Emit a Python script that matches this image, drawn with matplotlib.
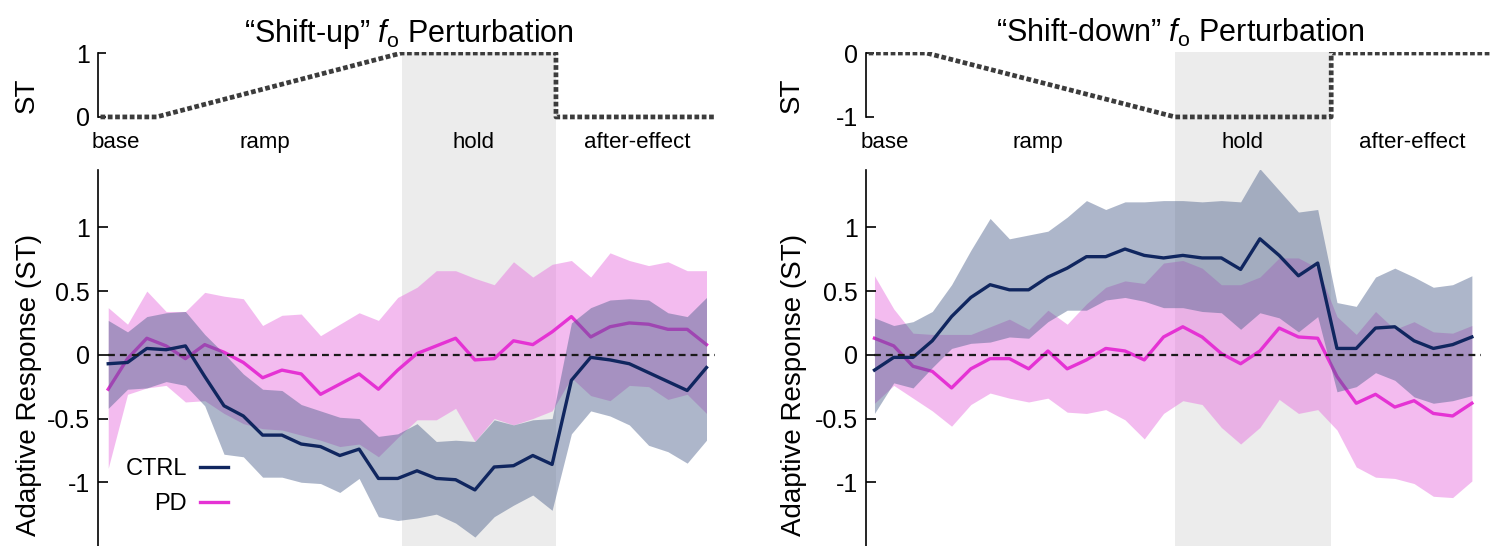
import numpy as np
import matplotlib
matplotlib.use('Agg')
import matplotlib.pyplot as plt
from matplotlib.transforms import blended_transform_factory

plt.rcParams['font.family'] = ['Liberation Sans', 'DejaVu Sans']
plt.rcParams['axes.unicode_minus'] = False
plt.rcParams['mathtext.fontset'] = 'custom'
plt.rcParams['mathtext.rm'] = 'Liberation Sans'
plt.rcParams['mathtext.it'] = 'Liberation Sans:italic'

# trial bins
bins = np.arange(1, 33)
phases = ['base', 'ramp', 'hold', 'after-effect']

# perturbation schedule in bin units: start, ramp start, hold start, hold end, end
up_edges = [0.6, 3.5, 16.2, 24.2, 32.4]
down_edges = [0.7, 3.7, 16.6, 24.7, 33.0]
up_shift = 1
down_shift = -1

# "Shift-up" adaptive responses (ST)
up_ctrl = [-0.07, -0.06, 0.05, 0.04, 0.07, -0.17, -0.40, -0.48, -0.63, -0.63, -0.70, -0.72,
           -0.79, -0.74, -0.97, -0.97, -0.91, -0.97, -0.98, -1.06, -0.88, -0.87, -0.79, -0.86,
           -0.20, -0.02, -0.04, -0.07, -0.14, -0.21, -0.28, -0.10]
up_ctrl_hi = [0.27, 0.18, 0.30, 0.33, 0.34, 0.16, 0.01, -0.15, -0.27, -0.28, -0.39, -0.44,
              -0.49, -0.50, -0.64, -0.62, -0.54, -0.68, -0.67, -0.68, -0.51, -0.55, -0.51, -0.50,
              0.25, 0.37, 0.43, 0.44, 0.43, 0.33, 0.30, 0.45]
up_ctrl_lo = [-0.42, -0.27, -0.26, -0.21, -0.24, -0.40, -0.78, -0.80, -0.96, -0.96, -1.00, -1.01,
              -1.08, -0.97, -1.27, -1.30, -1.28, -1.25, -1.32, -1.43, -1.27, -1.18, -1.10, -1.22,
              -0.62, -0.44, -0.48, -0.55, -0.71, -0.76, -0.85, -0.67]
up_pd = [-0.27, -0.03, 0.13, 0.07, -0.03, 0.08, 0.02, -0.06, -0.18, -0.12, -0.15, -0.31,
         -0.23, -0.15, -0.27, -0.12, 0.01, 0.07, 0.13, -0.04, -0.03, 0.11, 0.08, 0.18,
         0.30, 0.14, 0.22, 0.25, 0.24, 0.20, 0.20, 0.08]
up_pd_hi = [0.37, 0.24, 0.50, 0.34, 0.34, 0.49, 0.46, 0.44, 0.23, 0.31, 0.32, 0.15,
            0.24, 0.33, 0.27, 0.45, 0.53, 0.66, 0.66, 0.60, 0.55, 0.73, 0.61, 0.71,
            0.74, 0.61, 0.80, 0.74, 0.70, 0.73, 0.66, 0.66]
up_pd_lo = [-0.89, -0.31, -0.26, -0.24, -0.37, -0.36, -0.46, -0.54, -0.58, -0.59, -0.63, -0.67,
            -0.72, -0.70, -0.80, -0.65, -0.51, -0.51, -0.42, -0.68, -0.50, -0.55, -0.50, -0.44,
            -0.18, -0.32, -0.36, -0.24, -0.25, -0.35, -0.31, -0.46]

# "Shift-down" adaptive responses (ST)
down_ctrl = [-0.12, -0.02, -0.02, 0.11, 0.30, 0.45, 0.55, 0.51, 0.51, 0.61, 0.68, 0.77,
             0.77, 0.83, 0.78, 0.76, 0.78, 0.76, 0.76, 0.67, 0.91, 0.78, 0.62, 0.72,
             0.05, 0.05, 0.21, 0.22, 0.11, 0.05, 0.08, 0.14]
down_ctrl_hi = [0.29, 0.23, 0.26, 0.34, 0.55, 0.82, 1.07, 0.91, 0.94, 0.97, 1.08, 1.21,
                1.14, 1.20, 1.20, 1.21, 1.21, 1.20, 1.21, 1.20, 1.46, 1.29, 1.12, 1.14,
                0.41, 0.38, 0.61, 0.68, 0.61, 0.53, 0.55, 0.62]
down_ctrl_lo = [-0.46, -0.22, -0.26, -0.10, 0.05, 0.09, 0.10, 0.14, 0.13, 0.26, 0.35, 0.35,
                0.43, 0.45, 0.42, 0.37, 0.37, 0.34, 0.33, 0.20, 0.33, 0.29, 0.18, 0.30,
                -0.29, -0.25, -0.14, -0.20, -0.33, -0.38, -0.36, -0.32]
down_pd = [0.13, 0.07, -0.09, -0.13, -0.26, -0.11, -0.03, -0.03, -0.11, 0.03, -0.11, -0.04,
           0.05, 0.03, -0.04, 0.14, 0.22, 0.14, 0.01, -0.07, 0.03, 0.21, 0.14, 0.13,
           -0.17, -0.38, -0.31, -0.41, -0.36, -0.46, -0.48, -0.38]
down_pd_hi = [0.62, 0.36, 0.17, 0.16, 0.16, 0.16, 0.22, 0.28, 0.20, 0.35, 0.24, 0.40,
              0.53, 0.58, 0.56, 0.72, 0.74, 0.68, 0.55, 0.55, 0.61, 0.76, 0.76, 0.68,
              0.30, 0.16, 0.34, 0.20, 0.26, 0.18, 0.17, 0.23]
down_pd_lo = [-0.38, -0.24, -0.34, -0.44, -0.56, -0.39, -0.30, -0.34, -0.37, -0.34, -0.45, -0.46,
              -0.43, -0.51, -0.66, -0.46, -0.36, -0.39, -0.57, -0.70, -0.57, -0.35, -0.46, -0.43,
              -0.59, -0.88, -0.96, -0.97, -1.01, -1.11, -1.12, -0.99]

W, H = 1501, 546
CTRL_LINE = '#10265f'
CTRL_FILL = '#4a5f8a'
PD_LINE = '#e532d4'
PD_FILL = '#e878e0'
HOLD = '#ececec'


def px(x0, y0, x1, y1):
    # pixel box -> figure rect
    return [x0 / W, 1 - y1 / H, (x1 - x0) / W, (y1 - y0) / H]


def draw_panel(fig, x0, x1, xlim, edges, shift, ctrl, ctrl_lo, ctrl_hi, pd_, pd_lo, pd_hi,
               title, label_x):
    ax_top = fig.add_axes(px(x0, 52, x1, 170))
    ax = fig.add_axes(px(x0, 170, x1, 546))

    # perturbation profile
    lo, hi = min(0, shift), max(0, shift)
    ax_top.axvspan(edges[2], edges[3], color=HOLD, lw=0, zorder=0)
    path_x = [edges[0], edges[1], edges[2], edges[3], edges[3], edges[4]]
    path_y = [0, 0, shift, shift, 0, 0]
    ax_top.plot(path_x, path_y, color='#3c3c3c', lw=3.4, ls=(0, (1, 0.55)),
                dash_capstyle='butt', zorder=2)
    ax_top.set_xlim(xlim)
    ax_top.set_ylim(lo - 0.83, hi + 0.016)
    for s in ['top', 'right', 'bottom']:
        ax_top.spines[s].set_visible(False)
    ax_top.spines['left'].set_bounds(lo, hi)
    ax_top.spines['left'].set_linewidth(1.2)
    ax_top.set_xticks([])
    ax_top.set_yticks([lo, hi])
    ax_top.set_yticklabels([f'{lo:g}', f'{hi:g}'])
    ax_top.tick_params(axis='y', direction='in', length=6, width=1.2, labelsize=18, pad=6)
    ax_top.patch.set_visible(False)
    tr = blended_transform_factory(ax_top.transData, ax_top.transAxes)
    for name, lx in zip(phases, label_x):
        ax_top.text(lx, 0.237, name, transform=tr, ha='center', va='center', fontsize=16)
    ax_top.set_title(title, fontsize=22, pad=7)

    # adaptive responses
    ax.axvspan(edges[2], edges[3], color=HOLD, lw=0, zorder=0)
    ax.fill_between(bins, pd_lo, pd_hi, color=PD_FILL, alpha=0.5, lw=0, zorder=1)
    l_pd, = ax.plot(bins, pd_, color=PD_LINE, lw=2.4, zorder=2, label='PD')
    ax.fill_between(bins, ctrl_lo, ctrl_hi, color=CTRL_FILL, alpha=0.45, lw=0, zorder=3)
    l_ctrl, = ax.plot(bins, ctrl, color=CTRL_LINE, lw=2.4, zorder=4, label='CTRL')
    ax.hlines(0, bins[0], bins[-1] + 0.45, colors='#1a1a1a', lw=1.6,
              linestyles=(0, (3.1, 2.25)), zorder=5)
    ax.set_xlim(xlim)
    ax.set_ylim(-1.5, 1.45)
    for s in ['top', 'right', 'bottom']:
        ax.spines[s].set_visible(False)
    ax.spines['left'].set_linewidth(1.2)
    ax.set_xticks([])
    ax.set_yticks([1, 0.5, 0, -0.5, -1])
    ax.set_yticklabels(['1', '0.5', '0', '-0.5', '-1'])
    ax.tick_params(axis='y', direction='in', length=7, width=1.2, labelsize=18, pad=6)
    return ax, l_ctrl, l_pd


fig = plt.figure(figsize=(W / 100, H / 100), dpi=100)

ax_l, l_ctrl, l_pd = draw_panel(
    fig, 98, 720, (0.47, 32.7), up_edges, up_shift,
    up_ctrl, up_ctrl_lo, up_ctrl_hi, up_pd, up_pd_lo, up_pd_hi,
    '\u201cShift-up\u201d $\\mathit{f}_{\\mathrm{o}}$ Perturbation',
    [1.4, 9.1, 19.95, 28.4])
ax_r, _, _ = draw_panel(
    fig, 866, 1495, (0.56, 33.2), down_edges, down_shift,
    down_ctrl, down_ctrl_lo, down_ctrl_hi, down_pd, down_pd_lo, down_pd_hi,
    '\u201cShift-down\u201d $\\mathit{f}_{\\mathrm{o}}$ Perturbation',
    [1.55, 9.5, 20.1, 28.9])

ax_l.legend([l_ctrl, l_pd], ['CTRL', 'PD'], loc='center', bbox_to_anchor=(0.127, 0.157),
            frameon=False, markerfirst=False, fontsize=17, handlelength=1.2,
            handletextpad=0.55, labelspacing=0.55, borderpad=0, borderaxespad=0)

for xc in [29, 794]:
    fig.text(xc / W, 1 - 385 / H, 'Adaptive Response (ST)', rotation=90,
             ha='center', va='center', fontsize=20)
    fig.text((xc - 2) / W, 1 - 95 / H, 'ST', rotation=90,
             ha='center', va='center', fontsize=20)

fig.savefig('out.png', dpi=100)
